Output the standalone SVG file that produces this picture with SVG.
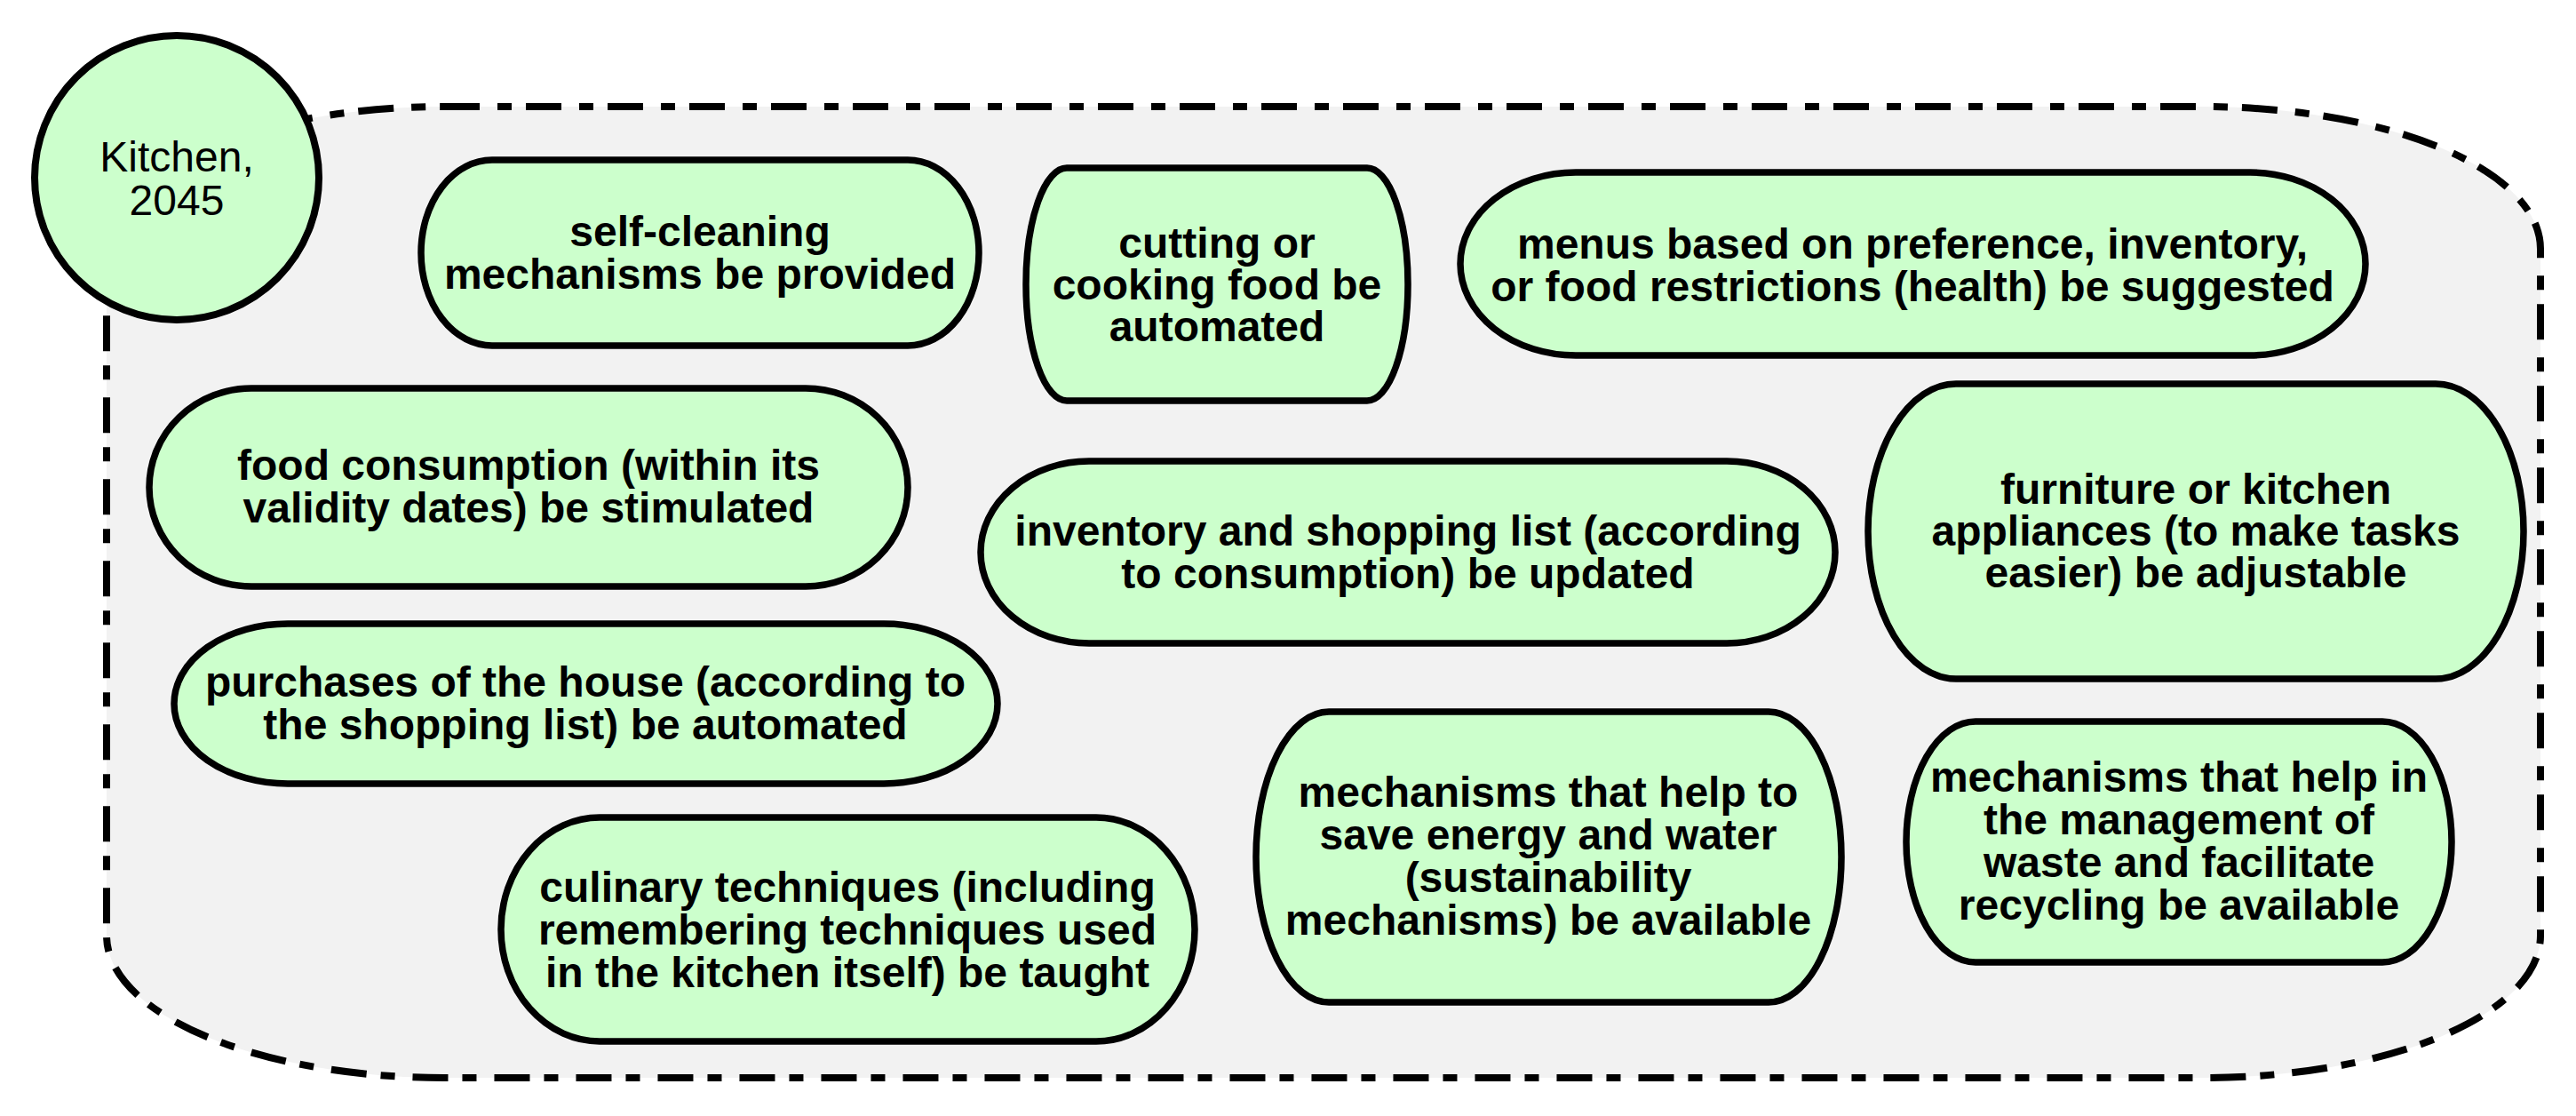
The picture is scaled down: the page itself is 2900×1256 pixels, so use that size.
<svg xmlns="http://www.w3.org/2000/svg" width="2900" height="1256" viewBox="0 0 2900 1256">
<style>
.node rect{fill:#ccffcc;stroke:#000;stroke-width:7.5}
.node text{font-family:"Liberation Sans",Arial,sans-serif;font-weight:bold;font-size:48px;fill:#000;text-anchor:middle}
.title text{font-family:"Liberation Sans",Arial,sans-serif;font-size:48px;fill:#000;text-anchor:middle}
</style>
<rect width="2900" height="1256" fill="#ffffff"/>
<g id="container">
<rect x="120" y="120" width="2740" height="1093" rx="380" ry="160" fill="#f2f2f2" stroke="#000" stroke-width="8" stroke-dasharray="40 20 16 16"/>
</g>
<g id="kitchen" class="title">
<circle cx="199" cy="200" r="160" fill="#ccffcc" stroke="#000" stroke-width="8"/>
<text x="199" y="193">Kitchen,</text>
<text x="199" y="242">2045</text>
</g>
<g id="connectors"></g>
<g id="n-self-cleaning" class="node">
<rect x="474" y="180" width="628" height="209" rx="80" ry="104.5"/>
<text x="788" y="277">self-cleaning</text>
<text x="788" y="325">mechanisms be provided</text>
</g>
<g id="n-cutting" class="node">
<rect x="1155" y="189" width="430" height="262" rx="46" ry="131"/>
<text x="1370" y="290">cutting or</text>
<text x="1370" y="337">cooking food be</text>
<text x="1370" y="384">automated</text>
</g>
<g id="n-menus" class="node">
<rect x="1644" y="194" width="1019" height="206" rx="130" ry="103"/>
<text x="2153" y="291">menus based on preference, inventory,</text>
<text x="2153" y="339">or food restrictions (health) be suggested</text>
</g>
<g id="n-food-consumption" class="node">
<rect x="168" y="437" width="854" height="223" rx="115" ry="111.5"/>
<text x="595" y="540">food consumption (within its</text>
<text x="595" y="588">validity dates) be stimulated</text>
</g>
<g id="n-inventory" class="node">
<rect x="1104" y="519" width="962" height="205" rx="122" ry="102.5"/>
<text x="1585" y="614">inventory and shopping list (according</text>
<text x="1585" y="662">to consumption) be updated</text>
</g>
<g id="n-furniture" class="node">
<rect x="2103" y="432" width="738" height="332" rx="99" ry="166"/>
<text x="2472" y="567">furniture or kitchen</text>
<text x="2472" y="614">appliances (to make tasks</text>
<text x="2472" y="661">easier) be adjustable</text>
</g>
<g id="n-purchases" class="node">
<rect x="196" y="702" width="927" height="180" rx="128" ry="90"/>
<text x="659" y="784">purchases of the house (according to</text>
<text x="659" y="832">the shopping list) be automated</text>
</g>
<g id="n-culinary" class="node">
<rect x="564" y="920" width="781" height="252" rx="111" ry="126"/>
<text x="954" y="1015">culinary techniques (including</text>
<text x="954" y="1063">remembering techniques used</text>
<text x="954" y="1111">in the kitchen itself) be taught</text>
</g>
<g id="n-energy" class="node">
<rect x="1414" y="801" width="659" height="327" rx="82" ry="163.5"/>
<text x="1743" y="908">mechanisms that help to</text>
<text x="1743" y="956">save energy and water</text>
<text x="1743" y="1004">(sustainability</text>
<text x="1743" y="1052">mechanisms) be available</text>
</g>
<g id="n-waste" class="node">
<rect x="2146" y="812" width="614" height="271" rx="78" ry="135.5"/>
<text x="2453" y="891">mechanisms that help in</text>
<text x="2453" y="939">the management of</text>
<text x="2453" y="987">waste and facilitate</text>
<text x="2453" y="1035">recycling be available</text>
</g>
</svg>
